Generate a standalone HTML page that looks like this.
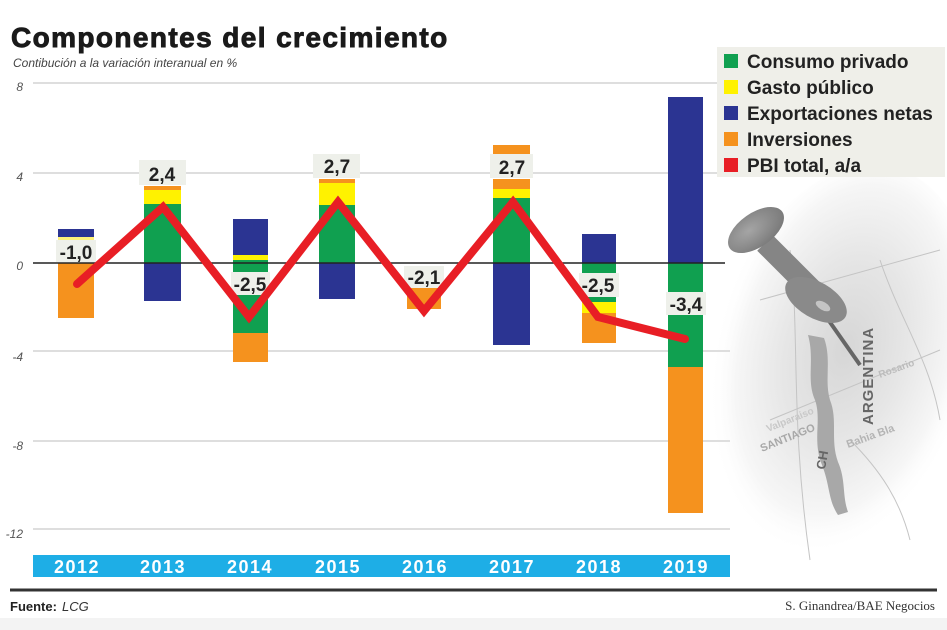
<!DOCTYPE html>
<html><head><meta charset="utf-8"><style>
html,body{margin:0;padding:0;background:#fff;}
svg{display:block;}
</style></head><body>
<svg width="947" height="630" viewBox="0 0 947 630" xmlns="http://www.w3.org/2000/svg" font-family="Liberation Sans, Arial, sans-serif">
<defs>
<radialGradient id="mapg" cx="0.5" cy="0.45" r="0.5">
<stop offset="0" stop-color="#d6d6d6"/>
<stop offset="0.45" stop-color="#e6e6e6"/>
<stop offset="0.8" stop-color="#f6f6f6"/>
<stop offset="1" stop-color="#ffffff" stop-opacity="0"/>
</radialGradient>
<radialGradient id="pinh" cx="0.4" cy="0.4" r="0.7">
<stop offset="0" stop-color="#a5a5a5"/>
<stop offset="1" stop-color="#767676"/>
</radialGradient>
</defs>
<rect width="947" height="630" fill="#fff"/>
<!-- map illustration -->
<ellipse cx="840" cy="370" rx="130" ry="210" fill="url(#mapg)" transform="rotate(15 840 370)"/>
<g stroke="#c4c4c4" stroke-width="1" fill="none">
<path d="M760 300 L940 250"/>
<path d="M770 420 L940 350"/>
<path d="M790 250 C800 330 790 420 810 560"/>
<path d="M880 260 C900 320 930 360 940 420"/>
<path d="M850 440 C880 470 900 500 910 540"/>
</g>
<path d="M808 335 C815 360 806 380 815 400 C822 420 812 440 822 465 C830 485 828 500 838 515 L848 512 C842 495 846 480 838 462 C830 440 838 420 830 400 C824 380 832 360 824 338 Z" fill="#a8a8a8"/>
<g fill="#a8a8a8" font-size="11" font-weight="bold">
<text x="762" y="452" transform="rotate(-22 762 452)">SANTIAGO</text>
<text x="768" y="432" transform="rotate(-22 768 432)" fill="#c8c8c8" font-size="10">Valparaiso</text>
<text x="848" y="448" transform="rotate(-20 848 448)" fill="#b4b4b4">Bahia Bla</text>
<text x="880" y="378" transform="rotate(-20 880 378)" fill="#bcbcbc" font-size="10">Rosario</text>
<text x="825" y="470" transform="rotate(-80 825 470)" fill="#666" font-size="13">CH</text>
</g>
<text x="873" y="425" transform="rotate(-90 873 425)" fill="#666" font-size="15" font-weight="bold" letter-spacing="1">ARGENTINA</text>
<!-- pin -->
<line x1="827" y1="318" x2="860" y2="365" stroke="#666" stroke-width="4"/>
<line x1="765" y1="243" x2="814" y2="292" stroke="#858585" stroke-width="22"/>
<ellipse cx="816" cy="300" rx="34" ry="18" transform="rotate(30 816 300)" fill="#8a8a8a"/>
<ellipse cx="823" cy="306" rx="8" ry="4" transform="rotate(30 823 306)" fill="#c4c4c4"/>
<ellipse cx="756" cy="230" rx="32" ry="17" transform="rotate(-35 756 230)" fill="url(#pinh)"/>
<!-- gridlines -->
<g stroke="#d3d3d3" stroke-width="1.5">
<line x1="33" y1="83" x2="717" y2="83"/>
<line x1="33" y1="173" x2="730" y2="173"/>
<line x1="33" y1="351" x2="730" y2="351"/>
<line x1="33" y1="441" x2="730" y2="441"/>
<line x1="33" y1="529" x2="730" y2="529"/>
</g>
<!-- y labels -->
<g font-size="12" font-style="italic" fill="#555" text-anchor="end">
<text x="23" y="91">8</text>
<text x="23" y="181">4</text>
<text x="23" y="270">0</text>
<text x="23" y="361">-4</text>
<text x="23" y="450">-8</text>
<text x="23" y="538">-12</text>
</g>
<!-- bars -->
<rect x="58" y="229" width="36" height="8" fill="#2b3492"/>
<rect x="58" y="237" width="36" height="3" fill="#fff27a"/>
<rect x="58" y="263" width="36" height="55" fill="#f5921e"/>
<rect x="144" y="186" width="37" height="4" fill="#f5921e"/>
<rect x="144" y="190" width="37" height="14" fill="#fff200"/>
<rect x="144" y="204" width="37" height="59" fill="#10a050"/>
<rect x="144" y="263" width="37" height="38" fill="#2b3492"/>
<rect x="233" y="219" width="35" height="36" fill="#2b3492"/>
<rect x="233" y="255" width="35" height="5" fill="#fff200"/>
<rect x="233" y="260" width="35" height="73" fill="#10a050"/>
<rect x="233" y="333" width="35" height="29" fill="#f5921e"/>
<rect x="319" y="179" width="36" height="4" fill="#f5921e"/>
<rect x="319" y="183" width="36" height="22" fill="#fff200"/>
<rect x="319" y="205" width="36" height="58" fill="#10a050"/>
<rect x="319" y="263" width="36" height="36" fill="#2b3492"/>
<rect x="407" y="266" width="34" height="43" fill="#f5921e"/>
<rect x="493" y="145" width="37" height="9" fill="#f5921e"/>
<rect x="493" y="179" width="37" height="10" fill="#f5921e"/>
<rect x="493" y="189" width="37" height="9" fill="#fff200"/>
<rect x="493" y="198" width="37" height="65" fill="#10a050"/>
<rect x="493" y="263" width="37" height="82" fill="#2b3492"/>
<rect x="582" y="234" width="34" height="29" fill="#2b3492"/>
<rect x="582" y="263" width="34" height="39" fill="#10a050"/>
<rect x="582" y="302" width="34" height="11" fill="#fff200"/>
<rect x="582" y="313" width="34" height="30" fill="#f5921e"/>
<rect x="668" y="97" width="35" height="166" fill="#2b3492"/>
<rect x="668" y="263" width="35" height="104" fill="#10a050"/>
<rect x="668" y="367" width="35" height="146" fill="#f5921e"/>
<!-- zero line -->
<line x1="33" y1="263" x2="725" y2="263" stroke="#222" stroke-width="1.5"/>
<!-- label boxes -->
<g fill="#eef0ea">
<rect x="56" y="240" width="40" height="22"/>
<rect x="139" y="160" width="47" height="25"/>
<rect x="231" y="272" width="39" height="23"/>
<rect x="313" y="154" width="47" height="24"/>
<rect x="404" y="266" width="40" height="22"/>
<rect x="490" y="154" width="43" height="24"/>
<rect x="579" y="273" width="40" height="24"/>
<rect x="666" y="292" width="40" height="23"/>
</g>
<g font-size="19" font-weight="bold" fill="#222" text-anchor="middle">
<text x="76" y="259">-1,0</text>
<text x="162" y="181">2,4</text>
<text x="250" y="291">-2,5</text>
<text x="337" y="173">2,7</text>
<text x="424" y="284">-2,1</text>
<text x="512" y="174">2,7</text>
<text x="598" y="292">-2,5</text>
<text x="686" y="311">-3,4</text>
</g>
<!-- red line -->
<polyline points="77,284 163,207 249,317 338,202 424,311 513,202 598,317 685,339" fill="none" stroke="#e81e25" stroke-width="8" stroke-linecap="round" stroke-linejoin="miter"/>
<!-- year bar -->
<rect x="33" y="555" width="697" height="22" fill="#1eaee6"/>
<g font-size="18" font-weight="bold" fill="#fff" text-anchor="middle" letter-spacing="1.5">
<text x="77" y="573">2012</text>
<text x="163" y="573">2013</text>
<text x="250" y="573">2014</text>
<text x="338" y="573">2015</text>
<text x="425" y="573">2016</text>
<text x="512" y="573">2017</text>
<text x="599" y="573">2018</text>
<text x="686" y="573">2019</text>
</g>
<!-- legend -->
<rect x="717" y="47" width="228" height="130" fill="#efefe9"/>
<rect x="724" y="54" width="14" height="14" fill="#10a050"/>
<rect x="724" y="80" width="14" height="14" fill="#fff200"/>
<rect x="724" y="106" width="14" height="14" fill="#2b3492"/>
<rect x="724" y="132" width="14" height="14" fill="#f5921e"/>
<rect x="724" y="158" width="14" height="14" fill="#e81e25"/>
<g font-size="19" font-weight="bold" fill="#222">
<text x="747" y="68">Consumo privado</text>
<text x="747" y="94">Gasto público</text>
<text x="747" y="120">Exportaciones netas</text>
<text x="747" y="146">Inversiones</text>
<text x="747" y="172">PBI total, a/a</text>
</g>
<!-- title -->
<text x="11" y="47" font-size="28" font-weight="bold" fill="#1a1a1a" stroke="#1a1a1a" stroke-width="0.9" letter-spacing="1.4">Componentes del crecimiento</text>
<text x="13" y="67" font-size="12" font-style="italic" fill="#444">Contibución a la variación interanual en %</text>
<!-- footer -->
<line x1="10" y1="590" x2="937" y2="590" stroke="#333" stroke-width="3"/>
<text x="10" y="611" font-size="13" font-weight="bold" fill="#222">Fuente:</text>
<text x="62" y="611" font-size="13" font-style="italic" fill="#333">LCG</text>
<text x="935" y="610" font-size="13" fill="#333" text-anchor="end" font-family="Liberation Serif, serif">S. Ginandrea/BAE Negocios</text>
<rect x="0" y="618" width="947" height="12" fill="#f3f3f3"/>
</svg>
</body></html>
